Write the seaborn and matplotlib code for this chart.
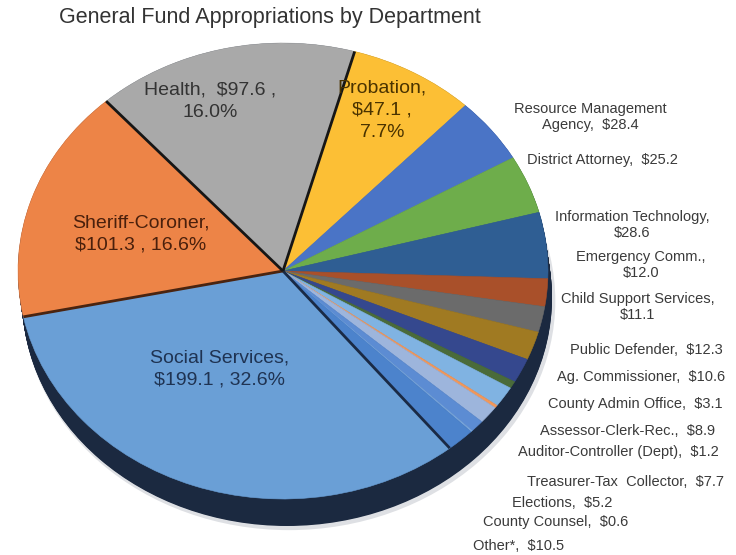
import numpy as np
import matplotlib
matplotlib.use("Agg")
import matplotlib.pyplot as plt
from matplotlib.patches import Ellipse
import seaborn as sns

# General fund appropriations ($ millions), in pie order (clockwise)
departments = [
    "Social Services", "Sheriff-Coroner", "Health", "Probation",
    "Resource Management Agency", "District Attorney", "Information Technology",
    "Emergency Comm.", "Child Support Services", "Public Defender",
    "Ag. Commissioner", "County Admin Office", "Assessor-Clerk-Rec.",
    "Auditor-Controller (Dept)", "Treasurer-Tax  Collector", "Elections",
    "County Counsel", "Other*",
]
amounts = [199.1, 101.3, 97.6, 47.1, 28.4, 25.2, 28.6, 12.0, 11.1, 12.3,
           10.6, 3.1, 8.9, 1.2, 7.7, 5.2, 0.6, 10.5]

slice_colors = [
    "#6A9FD6", "#ED8447", "#A9A9A9", "#FCBF35", "#4A74C6", "#6EAD4B",
    "#2F5E93", "#A9502A", "#6B6B6B", "#A07A22", "#35488E", "#4A6B3A",
    "#80B3E2", "#F1975A", "#9DB5DC", "#5C8CD3", "#7AA7DC", "#4C83CC",
]

title = "General Fund Appropriations by Department"

sns.set_theme(style="white")
plt.rcParams["font.family"] = ["Liberation Sans", "DejaVu Sans"]

W, H = 736, 555
fig = plt.figure(figsize=(W / 100, H / 100), dpi=100)
ax = fig.add_axes([0, 0, 1, 1])

# elliptical projection of the pie (pixels per data unit)
cx, cy = 283, 271
sx, sy = 265, 228
start = -51

wedges, _ = ax.pie(amounts, colors=sns.color_palette(slice_colors),
                   startangle=start, counterclock=False, radius=1,
                   center=(0, 0), wedgeprops=dict(linewidth=0.4, zorder=3))
for w, c in zip(wedges, slice_colors):
    w.set_edgecolor(c)

# extruded dark side of the disc
side = "#1B2940"
for t in np.linspace(0, 1, 40):
    ax.add_patch(Ellipse((4 / sx * t, -27 / sy * t), 2, 2,
                         facecolor=side, edgecolor="none", zorder=1))
ax.add_patch(Ellipse((6 / sx, -30 / sy), 2.01, 2.01, facecolor="#c9ccd2",
                     edgecolor="none", zorder=0.5, alpha=0.6))

# dark seams between the major slices
total = sum(amounts)
bounds = start - 360 * np.cumsum([0] + amounts) / total
seams = [(bounds[0], "#1A2A45"), (bounds[1], "#4A2410"),
         (bounds[2], "#161616"), (bounds[3], "#161616")]
for ang, col in seams:
    a = np.deg2rad(ang)
    ax.plot([0, np.cos(a)], [0, np.sin(a)], color=col, lw=2.0,
            solid_capstyle="butt", zorder=4)

ax.set_aspect("auto")
ax.set_xlim(-cx / sx, (W - cx) / sx)
ax.set_ylim(-(H - cy) / sy, cy / sy)
ax.axis("off")


def fx(x, y):
    return x / W, 1 - y / H


fig.text(*fx(270, 18), title, ha="center", va="center", fontsize=15.5,
         color="#333333")

# in-slice labels for the four largest departments
pct = [100 * a / total for a in amounts]
inner_text = [
    f"{departments[0]},\n${amounts[0]:.1f} , {pct[0]:.1f}%",
    f"{departments[1]},\n${amounts[1]:.1f} , {pct[1]:.1f}%",
    f"{departments[2]},  ${amounts[2]:.1f} ,\n{pct[2]:.1f}%",
    f"{departments[3]},\n${amounts[3]:.1f} ,\n{pct[3]:.1f}%",
]
inner_pos = [(220, 369), (141, 234), (210, 101), (382, 110)]
inner_col = ["#1F3352", "#4A200C", "#333333", "#4A3300"]
for s, (x, y), c in zip(inner_text, inner_pos, inner_col):
    fig.text(*fx(x, y), s, ha="center", va="center", fontsize=14,
             color=c, linespacing=1.42)

# outside labels for the remaining departments
outer_text = [
    f"Resource Management\nAgency,  ${amounts[4]:.1f}",
    f"{departments[5]},  ${amounts[5]:.1f}",
    f"{departments[6]},\n${amounts[6]:.1f}",
    f"{departments[7]},\n${amounts[7]:.1f}",
    f"{departments[8]},\n${amounts[8]:.1f}",
] + [f"{departments[i]},  ${amounts[i]:.1f}" for i in range(9, 18)]
outer_pos = [(590, 117, "center"), (602, 160, "center"),
             (632, 225, "center"), (641, 265, "center"),
             (638, 307, "center"),
             (723, 350, "right"), (725, 377, "right"), (723, 404, "right"),
             (715, 431, "right"), (719, 452, "right"), (724, 482, "right"),
             (512, 503, "left"), (483, 522, "left"), (473, 546, "left")]
for s, (x, y, ha) in zip(outer_text, outer_pos):
    fig.text(*fx(x, y), s, ha=ha, va="center", fontsize=10.5,
             color="#3A3A3A", linespacing=1.25, multialignment="center")

fig.savefig("out.png", dpi=100, facecolor="white")
